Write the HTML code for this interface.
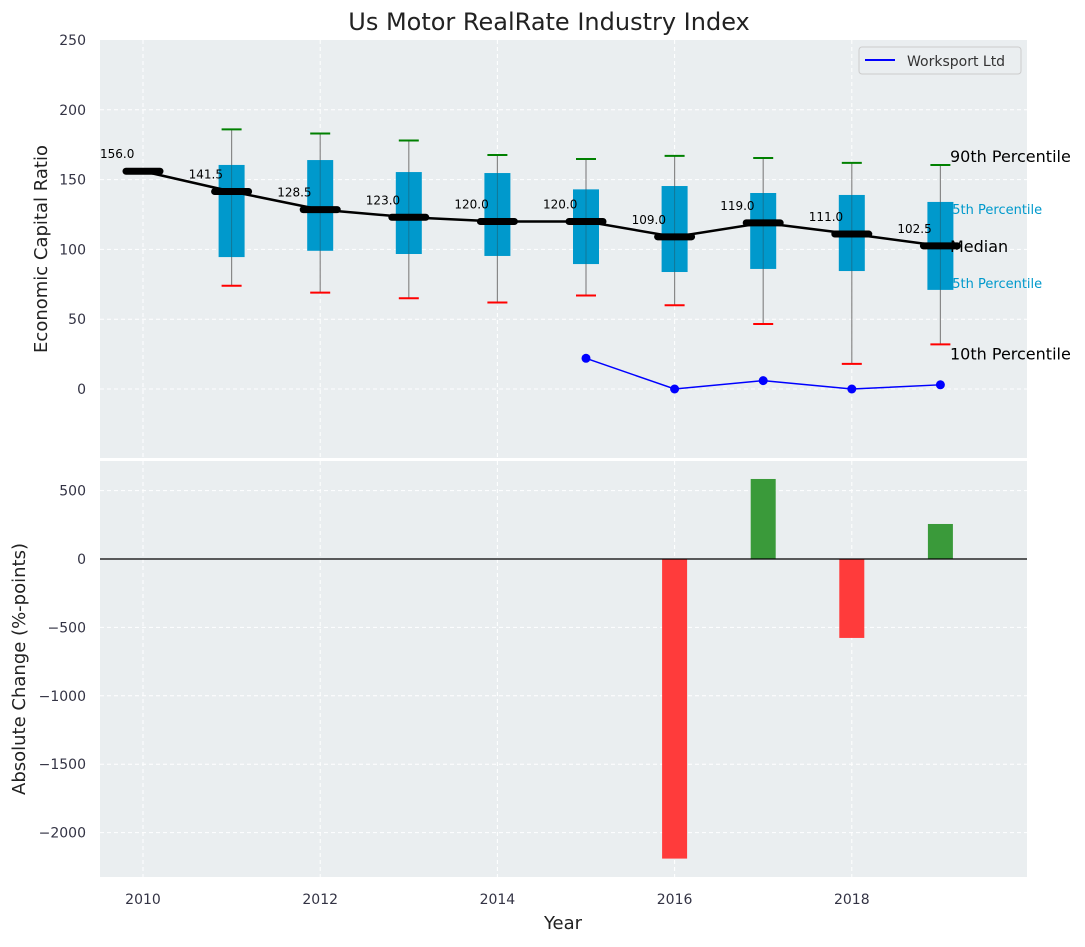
<!DOCTYPE html>
<html><head><meta charset="utf-8"><style>
body{margin:0;background:#fff;font-family:"Liberation Sans","DejaVu Sans",sans-serif}
</style></head><body>
<svg id="chart" width="1085" height="942" xmlns="http://www.w3.org/2000/svg" font-family="DejaVu Sans, Liberation Sans, sans-serif">
<rect width="1085" height="942" fill="#fff"/>
<text x="549" y="30" font-size="24" text-anchor="middle" fill="#222">Us Motor RealRate Industry Index</text>
<rect x="100" y="40" width="927" height="418" fill="#eaeef0"/>
<rect x="100" y="461" width="927" height="416" fill="#eaeef0"/>
<g id="grid"></g>
<g id="lab"></g>
<g id="top"></g>
<g id="lab2"></g>
<g id="bot"></g>
<g id="axes"></g>
<text transform="translate(47,249) rotate(-90)" font-size="18" text-anchor="middle" fill="#222">Economic Capital Ratio</text>
<text transform="translate(25,669) rotate(-90)" font-size="18" text-anchor="middle" fill="#222">Absolute Change (%-points)</text>
<text x="563" y="929" font-size="18" text-anchor="middle" fill="#222">Year</text>
<g>
<rect x="859" y="47" width="162" height="27" rx="3" fill="#eaeef0" stroke="#ccc"/>
<line x1="865" y1="60" x2="895" y2="60" stroke="#0000ff" stroke-width="2"/>
<text x="907" y="66" font-size="14" fill="#333">Worksport Ltd</text>
</g>
</svg>
<script>
const years=[2011,2012,2013,2014,2015,2016,2017,2018,2019];
const p90=[186,183,178,167.6,164.8,167,165.5,162,160.5];
const p75=[160.5,164,155.4,154.7,143,145.4,140.4,139,134];
const p25=[94.5,99,96.7,95.3,89.5,83.8,86,84.5,71];
const p10=[74,69,65,62,67,60,46.6,18,32];
const medYears=[2010,2011,2012,2013,2014,2015,2016,2017,2018,2019];
const medians=[156,141.5,128.5,123,120,120,109,119,111,102.5];
const coYears=[2015,2016,2017,2018,2019];
const coValues=[22,0,6,0,3];
const chgYears=[2016,2017,2018,2019];
const chgValues=[-2190,585,-577,256];
const topTicks=[0,50,100,150,200,250];
const botTicks=[500,0,-500,-1000,-1500,-2000];
const xTicks=[2010,2012,2014,2016,2018];

const NS="http://www.w3.org/2000/svg";
const X=y=>143+(y-2010)*88.6;
const YT=v=>389-v*1.396;
const YB=v=>559-v*0.1368;
function mk(p,tag,a,txt){const e=document.createElementNS(NS,tag);for(const k in a)e.setAttribute(k,a[k]);if(txt!==undefined)e.textContent=txt;p.appendChild(e);return e;}
const grid=document.getElementById('grid'),top_=document.getElementById('top'),bot=document.getElementById('bot'),axes=document.getElementById('axes'),lab=document.getElementById('lab'),lab2=document.getElementById('lab2');
xTicks.forEach(t=>{
 let g=mk(grid,'line',{x1:X(t),x2:X(t),y1:40,y2:458,stroke:'#fff','stroke-dasharray':'4,3'});
 
 g=mk(grid,'line',{x1:X(t),x2:X(t),y1:461,y2:877,stroke:'#fff','stroke-dasharray':'4,3'});
 
 const l=mk(axes,'text',{x:X(t),y:904,'font-size':14,'text-anchor':'middle',fill:'#334'},t);
 
});
topTicks.forEach(t=>{
 if(t<250){const g=mk(grid,'line',{x1:100,x2:1027,y1:YT(t),y2:YT(t),stroke:'#fff','stroke-dasharray':'4,3'});
 }
 const l=mk(axes,'text',{x:86,y:YT(t)+5,'font-size':14,'text-anchor':'end',fill:'#334'},t);
 
});
botTicks.forEach(t=>{
 const g=mk(grid,'line',{x1:100,x2:1027,y1:YB(t),y2:YB(t),stroke:'#fff','stroke-dasharray':'4,3'});
 
 const l=mk(axes,'text',{x:86,y:YB(t)+5,'font-size':14,'text-anchor':'end',fill:'#334'},String(t).replace('-','\u2212'));
 
});
const last=years.length-1;
// small labels behind boxes
[[p75[last],'75th Percentile',12],[p25[last],'25th Percentile',-2]].forEach(([v,s,dy])=>{
 const t=mk(lab,'text',{x:944,y:YT(v)+dy,'font-size':13,fill:'#0099cc'},s);
 
});
[[p90[last],'90th Percentile',-3],[medians[medians.length-1],'Median',6],[p10[last],'10th Percentile',15]].forEach(([v,s,dy])=>{
 const t=mk(lab2,'text',{x:950,y:YT(v)+dy,'font-size':16,fill:'#000'},s);
 
});
years.forEach((y,i)=>{
 const x=X(y),hw=13;
 let e=mk(top_,'line',{x1:x,x2:x,y1:YT(p90[i]),y2:YT(p10[i]),stroke:'#888','stroke-width':1.2});
 
 e=mk(top_,'rect',{x:x-hw,y:YT(p75[i]),width:2*hw,height:YT(p25[i])-YT(p75[i]),fill:'#0099cc'});
 
 e=mk(top_,'line',{x1:x,x2:x,y1:YT(p75[i]),y2:YT(p25[i]),stroke:'#1d5f75','stroke-width':1,opacity:0.6});
 
 e=mk(top_,'line',{x1:x-10,x2:x+10,y1:YT(p90[i]),y2:YT(p90[i]),stroke:'green','stroke-width':2});
 
 e=mk(top_,'line',{x1:x-10,x2:x+10,y1:YT(p10[i]),y2:YT(p10[i]),stroke:'red','stroke-width':2});
 
});
let pl=mk(top_,'polyline',{points:medYears.map((y,i)=>X(y)+','+YT(medians[i])).join(' '),fill:'none',stroke:'#000','stroke-width':2.5});

medYears.forEach((y,i)=>{
 const x=X(y),yy=YT(medians[i]);
 let e=mk(top_,'line',{x1:x-17,x2:x+17,y1:yy,y2:yy,stroke:'#000','stroke-width':7,'stroke-linecap':'round'});
 
 e=mk(top_,'text',{x:x-43,y:yy-13,'font-size':12,fill:'#000'},medians[i].toFixed(1));
 
});
pl=mk(top_,'polyline',{points:coYears.map((y,i)=>X(y)+','+YT(coValues[i])).join(' '),fill:'none',stroke:'#0000ff','stroke-width':1.5});

coYears.forEach((y,i)=>{const c=mk(top_,'circle',{cx:X(y),cy:YT(coValues[i]),r:4.5,fill:'#0000ff'});
 });
chgYears.forEach((y,i)=>{
 const v=chgValues[i],x=X(y);
 const r=mk(bot,'rect',{x:x-12.5,y:Math.min(YB(v),YB(0)),width:25,height:Math.abs(YB(v)-YB(0)),fill:v>=0?'#3a9a3a':'#ff3b3b'});
 
});
const z=mk(bot,'line',{x1:100,x2:1027,y1:YB(0),y2:YB(0),stroke:'#000','stroke-width':1.2});

</script>
</body></html>
